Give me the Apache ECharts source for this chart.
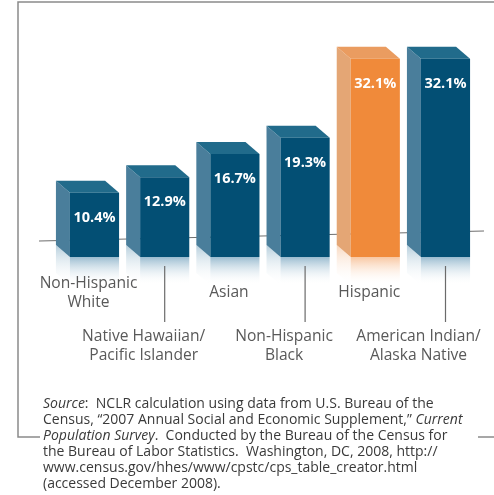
<!DOCTYPE html>
<html><head><meta charset="utf-8">
<script src="https://cdn.jsdelivr.net/npm/echarts@6/dist/echarts.min.js"></script>
<style>html,body{margin:0;padding:0;background:#fff}#c{width:494px;height:495px}</style>
</head><body><div id="c"></div>
<script>
const categories = ['Non-Hispanic\nWhite', 'Native Hawaiian/\nPacific Islander', 'Asian', 'Non-Hispanic\nBlack', 'Hispanic', 'American Indian/\nAlaska Native'];
const values = [10.4, 12.9, 16.7, 19.3, 32.1, 32.1];
const highlighted = [false, false, false, false, true, false];
const valueLabels = ['10.4%', '12.9%', '16.7%', '19.3%', '32.1%', '32.1%'];
const sourceLines = [
  '{i|Source}:  NCLR calculation using data from U.S. Bureau of the',
  'Census, \u201c2007 Annual Social and Economic Supplement,\u201d {i|Current}',
  '{i|Population Survey}.  Conducted by the Bureau of the Census for',
  'the Bureau of Labor Statistics.  Washington, DC, 2008, http://',
  'www.census.gov/hhes/www/cpstc/cps_table_creator.html',
  '(accessed December 2008).'
];

const BLUE = {front: '#034f74', side: '#4a7e9b', top: '#216b8b', refl: 'rgba(120,165,192,0.75)', reflSide: 'rgba(150,185,205,0.7)'};
const ORANGE = {front: '#f08a3a', side: '#e4a675', top: '#ea9c60', refl: 'rgba(246,180,130,0.75)', reflSide: 'rgba(245,200,165,0.7)'};
const FONT = '"Open Sans", sans-serif';
const DX = 14, DY = 12, REFL = 28;
const SRC_SIZE = 14;

function grad(c) {
  return new echarts.graphic.LinearGradient(0, 0, 0, 1, [{offset: 0, color: c}, {offset: 1, color: 'rgba(255,255,255,0)'}]);
}

function renderItem(params, api) {
  const i = api.value(0), v = api.value(1);
  const base = api.coord([i, 0]);
  const top = api.coord([i, v]);
  const slot = api.size([1, 0])[0];
  const w = slot * 0.70;
  const cx = base[0];
  const x0 = cx - w / 2;
  const yt = top[1], yb = base[1];
  const c = highlighted[i] ? ORANGE : BLUE;
  const children = [];
  children.push({type: 'polygon', shape: {points: [[x0 - DX, yb - DY], [x0, yb], [x0, yb + REFL], [x0 - DX, yb + REFL - DY]]}, style: {fill: grad(c.reflSide)}});
  children.push({type: 'rect', shape: {x: x0, y: yb, width: w, height: REFL}, style: {fill: grad(c.refl)}});
  children.push({type: 'polygon', shape: {points: [[x0 - DX, yt - DY], [x0, yt], [x0, yb], [x0 - DX, yb - DY]]}, style: {fill: c.side}});
  children.push({type: 'polygon', shape: {points: [[x0 - DX, yt - DY], [x0 + w - DX, yt - DY], [x0 + w, yt], [x0, yt]]}, style: {fill: c.top}});
  children.push({type: 'rect', shape: {x: x0, y: yt, width: w, height: yb - yt}, style: {fill: c.front}});
  children.push({type: 'text', style: {x: cx, y: yt + 25, text: valueLabels[i], fill: '#fff', font: 'bold 14.5px ' + FONT, align: 'center', verticalAlign: 'middle'}});
  if (i % 2 === 0) {
    children.push({type: 'text', style: {x: cx - 6, y: yb + 36, text: categories[i], fill: '#595959', font: '15.6px ' + FONT, align: 'center', verticalAlign: 'middle', lineHeight: 19}});
  } else {
    children.push({type: 'line', shape: {x1: cx, y1: yb + 9, x2: cx, y2: yb + 65}, style: {stroke: '#6b6b6b', lineWidth: 1.2}});
    const off = i === categories.length - 1 ? -27 : -21;
    children.push({type: 'text', style: {x: cx + off, y: yb + 89, text: categories[i], fill: '#595959', font: '15.6px ' + FONT, align: 'center', verticalAlign: 'middle', lineHeight: 19}});
  }
  return {type: 'group', children};
}

const chart = echarts.init(document.getElementById('c'), null, {renderer: 'canvas'});
chart.setOption({
  animation: false,
  backgroundColor: '#fff',
  grid: {left: 59.4, right: 13.4, top: 10, bottom: 238},
  xAxis: {type: 'category', data: categories, show: false},
  yAxis: {type: 'value', min: 0, max: 40, show: false},
  graphic: [
    {type: 'polyline', z: 0, shape: {points: [[40, 437], [18, 437], [18, 2], [494, 2]]}, style: {stroke: '#8a8a8a', lineWidth: 1.5, fill: null}},
    {type: 'line', z: 0, shape: {x1: 478, y1: 437, x2: 494, y2: 437}, style: {stroke: '#8a8a8a', lineWidth: 1.5}},
    {type: 'line', z: 0, shape: {x1: 39, y1: 241, x2: 484, y2: 231}, style: {stroke: '#6e6e6e', lineWidth: 1.2}},
    {type: 'text', z: 10, left: 43, top: 396, style: {text: sourceLines.join('\n'), font: SRC_SIZE + 'px ' + FONT, fill: '#3a3a3a', lineHeight: 16,
      rich: {i: {fontStyle: 'italic', fontFamily: FONT, fontSize: SRC_SIZE, fill: '#3a3a3a', lineHeight: 16}}}}
  ],
  series: [{
    type: 'custom', z: 5,
    renderItem,
    data: values.map((v, i) => [i, v])
  }]
});
</script></body></html>
